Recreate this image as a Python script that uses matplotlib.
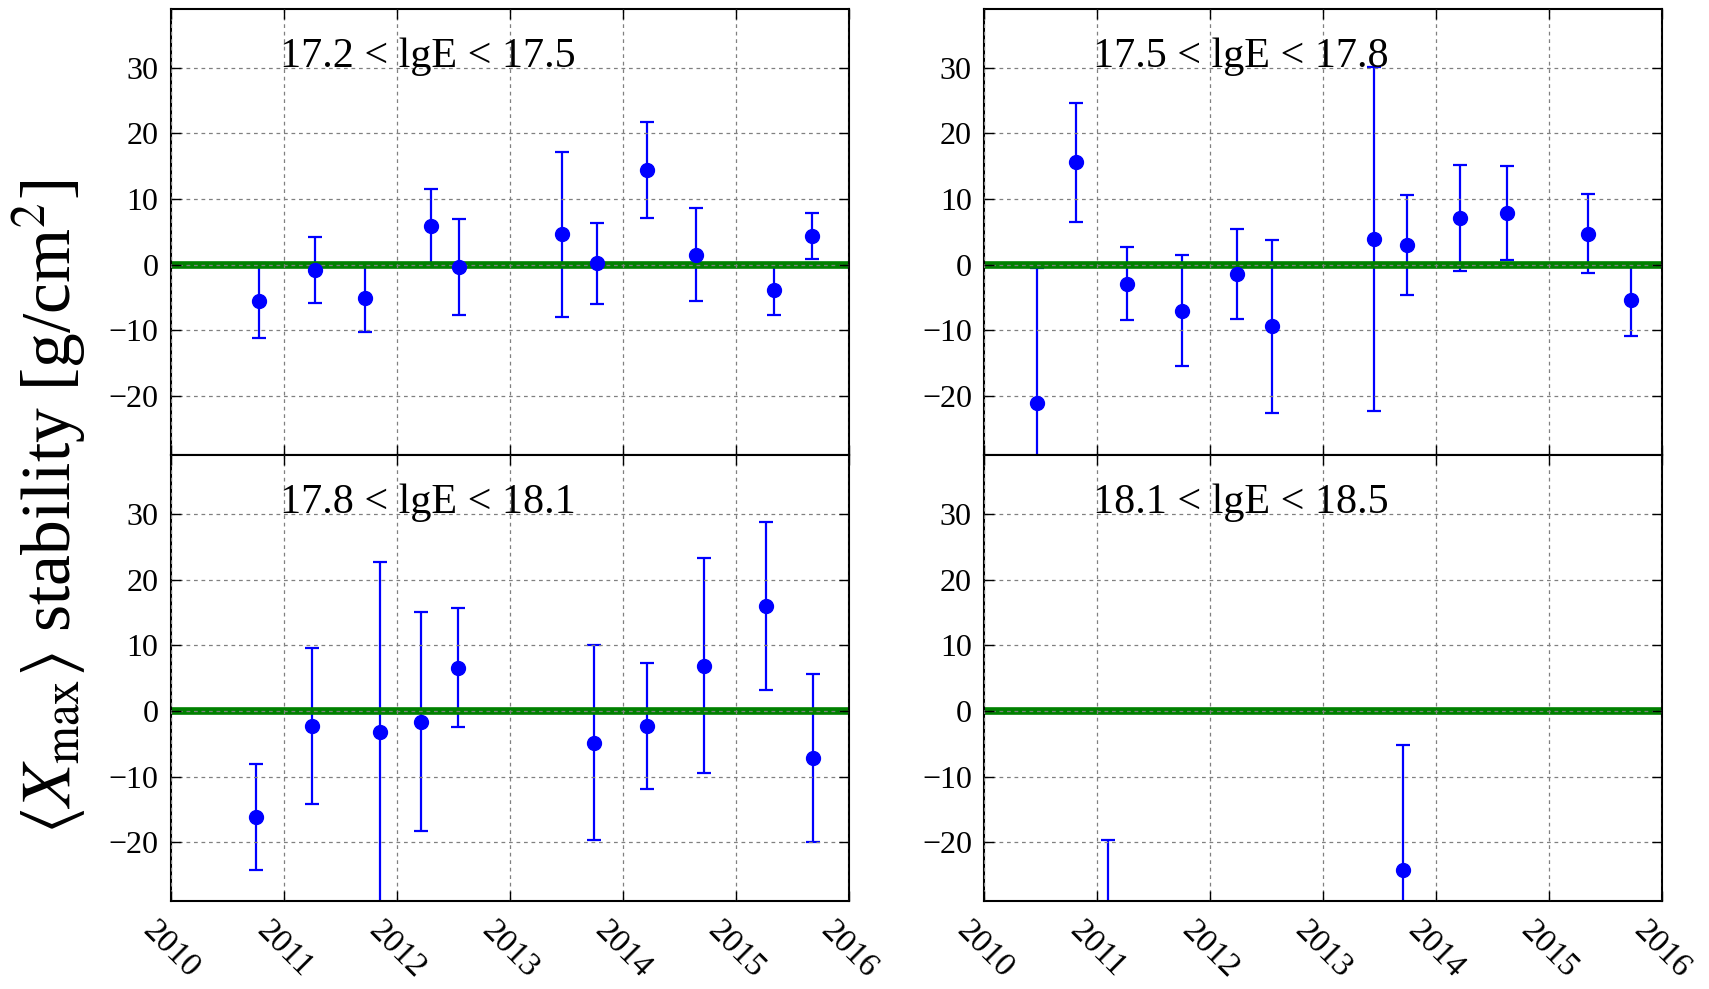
import matplotlib
matplotlib.use("Agg")
import matplotlib.pyplot as plt
import numpy as np

plt.rcParams["font.family"] = "serif"
plt.rcParams["font.serif"] = ["Liberation Serif", "DejaVu Serif"]
plt.rcParams["mathtext.fontset"] = "stix"

# energy bins
bin_labels = ["17.2 < lgE < 17.5", "17.5 < lgE < 17.8",
              "17.8 < lgE < 18.1", "18.1 < lgE < 18.5"]

# 17.2 < lgE < 17.5
t_a = [2010.78, 2011.27, 2011.72, 2012.30, 2012.55, 2013.46, 2013.77, 2014.21, 2014.65, 2015.34, 2015.67]
x_a = [-5.5, -0.8, -5.0, 5.9, -0.3, 4.6, 0.2, 14.4, 1.5, -3.8, 4.3]
e_a = [5.7, 5.0, 5.3, 5.6, 7.3, 12.6, 6.2, 7.3, 7.1, 3.8, 3.5]

# 17.5 < lgE < 17.8
t_b = [2010.47, 2010.81, 2011.26, 2011.75, 2012.24, 2012.55, 2013.45, 2013.74, 2014.21, 2014.63, 2015.34, 2015.72]
x_b = [-21.1, 15.6, -2.9, -7.0, -1.4, -9.4, 3.9, 3.0, 7.1, 7.9, 4.7, -5.4]
e_b = [20.6, 9.1, 5.6, 8.5, 6.9, 13.2, 26.2, 7.6, 8.1, 7.2, 6.0, 5.4]

# 17.8 < lgE < 18.1
t_c = [2010.75, 2011.25, 2011.85, 2012.21, 2012.54, 2013.74, 2014.21, 2014.72, 2015.27, 2015.68]
x_c = [-16.1, -2.3, -3.2, -1.6, 6.6, -4.8, -2.3, 6.9, 16.0, -7.2]
e_c = [8.1, 11.9, 25.9, 16.7, 9.1, 14.9, 9.6, 16.4, 12.8, 12.8]

# 18.1 < lgE < 18.5
t_d = [2011.09, 2013.71]
x_d = [-42.0, -24.2]
e_d = [22.4, 19.0]

times = [t_a, t_b, t_c, t_d]
values = [x_a, x_b, x_c, x_d]
errors = [e_a, e_b, e_c, e_d]

years = [2010, 2011, 2012, 2013, 2014, 2015, 2016]
yticks = [-20, -10, 0, 10, 20, 30]

fig, axes = plt.subplots(2, 2, figsize=(17.09, 9.89), dpi=100, sharex=True, sharey=True)
fig.subplots_adjust(left=0.1001, right=0.9726, top=0.9912, bottom=0.0886, hspace=0.0, wspace=0.2)

for i, ax in enumerate(axes.flat):
    # error bars sit under the zero line, markers on top
    ax.errorbar(times[i], values[i], yerr=errors[i], fmt="none", ecolor="blue",
                elinewidth=1.6, capsize=5, capthick=1.6, zorder=1)
    ax.axhline(0, color="green", lw=5.5, zorder=2)
    ax.plot(times[i], values[i], "o", color="blue", markersize=10, zorder=3)
    ax.set_xlim(2010, 2016)
    ax.set_ylim(-29, 39)
    ax.set_xticks(years)
    ax.set_yticks(yticks)
    ax.set_axisbelow(False)
    ax.grid(True, color="0.5", linestyle=(0, (3, 3)), lw=0.9, zorder=4)
    ax.tick_params(direction="in", top=True, right=True, length=7, width=1)
    ax.tick_params(axis="y", labelsize=23, pad=9)
    ax.tick_params(axis="x", labelsize=24, labelrotation=-45, pad=10)
    for s in ax.spines.values():
        s.set_linewidth(1.5)
    ax.text(0.16, 0.893, bin_labels[i], transform=ax.transAxes, fontsize=30.3,
            ha="left", va="center", zorder=6)
    ax.tick_params(labelleft=True)

for ax in axes[0]:
    ax.tick_params(labelbottom=False)

fig.text(0.029, 0.487, r"$\langle X_{\rm max}\rangle$ stability [g/cm$^2$]",
         rotation=90, ha="center", va="center", fontsize=50)

fig.savefig("out.png", dpi=100)
